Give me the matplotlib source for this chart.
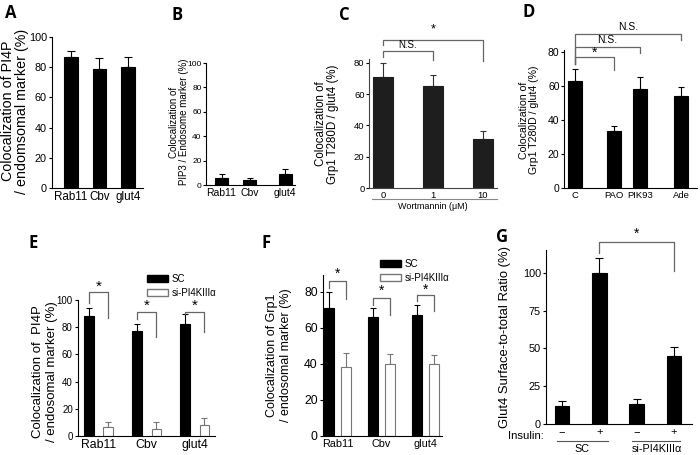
import matplotlib.pyplot as plt
import numpy as np
from matplotlib.lines import Line2D
from matplotlib.patches import Patch

plt.rcParams['font.family'] = ['Liberation Sans', 'DejaVu Sans']

W, H = 700, 455

# A
a_labels = ["Rab11", "Cbv", "glut4"]
a_vals = [87, 79, 80]
a_err = [4, 7, 7]

# B
b_labels = ["Rab11", "Cbv", "glut4"]
b_vals = [6, 4, 9]
b_err = [3, 1.5, 4]

# C
c_labels = ["0", "1", "10"]
c_vals = [71, 65, 31.5]
c_err = [9, 7.5, 5]

# D
d_labels = ["C", "PAO", "PIK93", "Ade"]
d_vals = [63, 33.5, 58, 54]
d_err = [7, 3, 7, 5]

# E
e_labels = ["Rab11", "Cbv", "glut4"]
e_sc = [88.5, 77.5, 82]
e_sc_err = [5.5, 4.5, 7.5]
e_si = [6.5, 5.5, 8]
e_si_err = [3.5, 4.5, 5]

# F
f_labels = ["Rab11", "Cbv", "glut4"]
f_sc = [71, 66, 67]
f_sc_err = [9, 5, 6]
f_si = [38.5, 40, 40]
f_si_err = [7.5, 5.5, 5]

# G
g_ticks = ["\u2212", "+", "\u2212", "+"]
g_vals = [12, 100, 13.5, 45]
g_err = [3.5, 9.5, 3, 6]


def px_ax(left, top, right, bottom):
    return fig.add_axes([left / W, 1 - bottom / H, (right - left) / W, (bottom - top) / H])


def ftext(x, y, s, **kw):
    fig.text(x / W, 1 - y / H, s, **kw)


def fline(x1, x2, y, color="#555555", lw=0.8):
    fig.add_artist(Line2D([x1 / W, x2 / W], [1 - y / H, 1 - y / H], color=color, lw=lw))


def style(ax, ysize, xsize, ylen=3):
    ax.spines["top"].set_visible(False)
    ax.spines["right"].set_visible(False)
    for s in ["left", "bottom"]:
        ax.spines[s].set_linewidth(0.8)
    ax.tick_params(axis="x", length=0, labelsize=xsize, pad=2)
    ax.tick_params(axis="y", length=ylen, width=0.8, labelsize=ysize, pad=1.2)


def bars(ax, x, vals, err, width, color="black", ecolor="black", edge=None, capsize=3):
    ax.bar(x, vals, width, color=color, edgecolor=edge if edge else color, linewidth=0.8, zorder=2)
    ax.errorbar(x, vals, yerr=[np.zeros(len(vals)), err], fmt="none", ecolor=ecolor,
                elinewidth=0.8, capsize=capsize, capthick=0.8, zorder=1)


def bracket(ax, x1, x2, y, y1, y2, label, ty, fs=9, color="#666666"):
    ax.plot([x1, x1, x2, x2], [y1, y, y, y2], color=color, lw=0.9, clip_on=False)
    ax.text((x1 + x2) / 2, ty, label, ha="center", va="center", fontsize=fs, clip_on=False)


def legend(ax, x, y):
    ax.legend(handles=[Patch(facecolor="black", edgecolor="black", label="SC"),
                       Patch(facecolor="white", edgecolor="#777777", label="si-PI4KIII\u03b1")],
              loc="upper left", bbox_to_anchor=(x / W, 1 - y / H), bbox_transform=fig.transFigure,
              frameon=False, fontsize=7, handlelength=2.2, handleheight=0.6, labelspacing=0.4,
              handletextpad=0.3, borderpad=0, borderaxespad=0)


fig = plt.figure(figsize=(7, 4.55), dpi=100)

letter_kw = dict(fontsize=12, fontweight="bold", family="Open Sans", ha="center", va="center")
ftext(11, 13, "A", **letter_kw)
ftext(177, 15, "B", **letter_kw)
ftext(344, 15, "C", **letter_kw)
ftext(529, 12, "D", **letter_kw)
ftext(33, 243, "E", **letter_kw)
ftext(266, 243, "F", **letter_kw)
ftext(502, 237, "G", **letter_kw)

# ---- A
ax = px_ax(52, 37, 143, 188)
xa = np.arange(len(a_vals))
bars(ax, xa, a_vals, a_err, 0.47)
ax.set_xlim(-0.67, 2.53)
ax.set_ylim(0, 100)
ax.set_yticks(np.arange(0, 101, 20))
ax.set_xticks(xa, a_labels)
style(ax, 7.8, 8.4, ylen=2.5)
ftext(15, 111, "Colocalization of PI4P\n/ endomsomal marker (%)", rotation=90,
      ha="center", va="center", fontsize=10.3, linespacing=0.95)

# ---- B
ax = px_ax(206, 63, 295, 185)
xb = np.array([0, 1, 2.25])
bars(ax, xb, b_vals, b_err, 0.46, capsize=2.5)
ax.set_xlim(-0.55, 2.6)
ax.set_ylim(0, 100)
ax.set_yticks(np.arange(0, 101, 20))
ax.set_xticks(xb, b_labels)
style(ax, 6, 7.5, ylen=2)
ftext(179, 122, "Colocalization of\nPIP3 / Endosome marker (%)", rotation=90,
      ha="center", va="center", fontsize=7, linespacing=0.9)

# ---- C
ax = px_ax(369, 59, 497, 188)
xc = np.arange(len(c_vals))
bars(ax, xc, c_vals, c_err, 0.4, color="#1e1e1e", ecolor="#333333", capsize=2)
ax.set_xlim(-0.28, 2.28)
ax.set_ylim(0, 82.5)
ax.set_yticks(np.arange(0, 81, 20))
ax.set_xticks(xc, c_labels)
style(ax, 6.8, 6.8, ylen=2)
for s in ["left", "bottom"]:
    ax.spines[s].set_color("#444444")
bracket(ax, 0, 1, 87.4, 83.6, 82, "N.S.", 91.5, fs=7)
bracket(ax, 0, 2, 94.7, 91.5, 81, "*", 101.5, fs=9)
fline(372, 497, 199, color="#888888")
ftext(433, 207, "Wortmannin (\u03bcM)", ha="center", va="center", fontsize=6.5)
ftext(327, 124, "Colocalization of\nGrp1 T280D / glut4 (%)", rotation=90,
      ha="center", va="center", fontsize=8.3, linespacing=0.95)

# ---- D
ax = px_ax(564, 50, 697, 188)
xd = np.array([0, 1, 1.67, 2.72])
bars(ax, xd, d_vals, d_err, 0.36, capsize=2.5)
ax.set_xlim(-0.28, 3.13)
ax.set_ylim(0, 81)
ax.set_yticks(np.arange(0, 81, 20))
ax.set_xticks(xd, d_labels)
style(ax, 7.5, 6.8, ylen=2)
bracket(ax, xd[0], xd[3], 90.3, 72.5, 87, "N.S.", 94.3, fs=7.5)
bracket(ax, xd[0], xd[2], 83, 72.5, 79, "N.S.", 86.6, fs=7.5)
bracket(ax, xd[0], xd[1], 77, 72.5, 69, "*", 79.5, fs=10)
ftext(529, 120, "Colocalization of\nGrp1 T280D / glut4 (%)", rotation=90,
      ha="center", va="center", fontsize=7.6, linespacing=0.88)

# ---- E
ax = px_ax(78, 300, 215, 436)
xe = np.arange(len(e_sc))
bars(ax, xe - 0.2, e_sc, e_sc_err, 0.2, capsize=2.5)
bars(ax, xe + 0.2, e_si, e_si_err, 0.2, color="white", ecolor="#777777", edge="#777777", capsize=2.5)
ax.set_xlim(-0.43, 2.42)
ax.set_ylim(0, 100)
ax.set_yticks(np.arange(0, 101, 20))
ax.set_xticks(xe, e_labels)
style(ax, 7, 8.8, ylen=2.5)
bracket(ax, -0.2, 0.2, 106, 98, 87, "*", 110, fs=11)
bracket(ax, 0.8, 1.2, 91, 86, 73, "*", 96, fs=11)
bracket(ax, 1.8, 2.2, 91.5, 90, 76.5, "*", 95.5, fs=11)
legend(ax, 147, 274)
ftext(45, 372, "Colocalization of  PI4P\n/ endosomal marker (%)", rotation=90,
      ha="center", va="center", fontsize=9.5, linespacing=1.2)

# ---- F
ax = px_ax(323, 275, 442, 436)
xf = np.arange(len(f_sc))
bars(ax, xf - 0.2, f_sc, f_sc_err, 0.22, capsize=2.5)
bars(ax, xf + 0.2, f_si, f_si_err, 0.22, color="white", ecolor="#777777", edge="#777777", capsize=2.5)
ax.set_xlim(-0.33, 2.375)
ax.set_ylim(0, 89.4)
ax.set_yticks(np.arange(0, 81, 20))
ax.set_xticks(xf, f_labels)
style(ax, 8.8, 7.8, ylen=2.5)
bracket(ax, -0.2, 0.2, 86, 82, 76, "*", 90, fs=10)
bracket(ax, 0.8, 1.2, 76.7, 73, 67, "*", 80.5, fs=10)
bracket(ax, 1.8, 2.2, 78.5, 75, 69.5, "*", 81.3, fs=10)
legend(ax, 380, 259)
ftext(279, 355, "Colocalization of Grp1\n/ endosomal marker (%)", rotation=90,
      ha="center", va="center", fontsize=9, linespacing=1.3)

# ---- G
ax = px_ax(546, 250, 692, 424)
xg = np.arange(len(g_vals))
bars(ax, xg, g_vals, g_err, 0.39, capsize=3)
ax.set_xlim(-0.43, 3.48)
ax.set_ylim(0, 115)
ax.set_yticks(np.arange(0, 101, 25))
ax.set_xticks(xg, g_ticks)
style(ax, 7.8, 8, ylen=2.5)
bracket(ax, 1, 3, 120, 113, 101, "*", 125.5, fs=10)
ftext(544, 436, "Insulin:", ha="right", va="center", fontsize=8.2)
fline(557, 608, 441)
fline(632, 680, 441)
ftext(582, 449, "SC", ha="center", va="center", fontsize=7.8)
ftext(657, 449, "si-PI4KIII\u03b1", ha="center", va="center", fontsize=7.8)
ftext(505, 337, "Glut4 Surface-to-total Ratio (%)", rotation=90,
      ha="center", va="center", fontsize=9.4)

fig.savefig("out.png", dpi=100)
